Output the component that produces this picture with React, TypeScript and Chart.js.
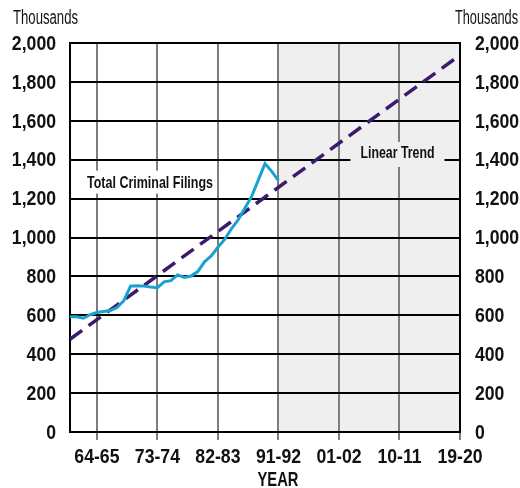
import React, { useEffect, useRef } from 'react';
import { Chart, registerables } from 'chart.js';

Chart.register(...registerables);

// Fiscal years with observed filings (index 0 = 60-61)
const fiscalYears = [
  '60-61', '61-62', '62-63', '63-64', '64-65', '65-66', '66-67', '67-68',
  '68-69', '69-70', '70-71', '71-72', '72-73', '73-74', '74-75', '75-76',
  '76-77', '77-78', '78-79', '79-80', '80-81', '81-82', '82-83', '83-84',
  '84-85', '85-86', '86-87', '87-88', '88-89', '89-90', '90-91', '91-92',
];
// Total criminal filings, thousands
const filings = [
  593, 592, 585, 603, 614, 620, 625, 640,
  675, 750, 752, 750, 745, 742, 772, 778,
  808, 795, 802, 825, 875, 905, 950, 990,
  1045, 1090, 1150, 1210, 1295, 1380, 1340, 1292,
];

// Linear trend end points (x index, thousands)
const trendX = [0, 58];
const trendY = [477, 1938];

// X axis ticks (index positions and labels)
const xTickPositions = [4, 13, 22, 31, 40, 49, 58];
const xTickLabels = ['64-65', '73-74', '82-83', '91-92', '01-02', '10-11', '19-20'];

// Y axis tick values and labels
const yTickValues = [0, 200, 400, 600, 800, 1000, 1200, 1400, 1600, 1800, 2000];
const yTickLabels = ['0', '200', '400', '600', '800', '1,000', '1,200', '1,400', '1,600', '1,800', '2,000'];

// Projection (shaded) range
const projectionRange = [31, 58];

const yMin = 0;
const yMax = 2000;
const yStep = 200;

const FONT = "'Liberation Sans', Arial, sans-serif";
const SQUEEZE = 0.84;

function squeezedText(ctx: any, text: string, x: number, y: number, k = SQUEEZE) {
  const w = ctx.measureText(text).width;
  ctx.fillText(text, x, y, w * k);
}

const overlay = {
  id: 'overlay',
  beforeDraw(chart: any) {
    const { ctx, chartArea, scales } = chart;
    const x0 = scales.x.getPixelForValue(projectionRange[0]);
    const x1 = scales.x.getPixelForValue(projectionRange[1]);
    ctx.save();
    ctx.fillStyle = '#efefef';
    ctx.fillRect(x0, chartArea.top, x1 - x0, chartArea.bottom - chartArea.top);
    ctx.restore();
  },
  beforeDatasetsDraw(chart: any) {
    const { ctx, scales } = chart;
    ctx.save();
    // Total Criminal Filings label
    let cx = scales.x.getPixelForValue(11.9);
    let cy = scales.y.getPixelForValue(1285);
    ctx.fillStyle = '#ffffff';
    ctx.fillRect(cx - 67, cy - 11.5, 134, 23);
    ctx.fillStyle = '#111111';
    ctx.font = `bold 17px ${FONT}`;
    ctx.textAlign = 'center';
    ctx.textBaseline = 'middle';
    ctx.fillText('Total Criminal Filings', cx, cy + 1, 126);
    // Linear Trend label
    cx = scales.x.getPixelForValue(48.7);
    cy = scales.y.getPixelForValue(1440);
    ctx.fillStyle = '#efefef';
    ctx.fillRect(cx - 47, cy - 10, 94, 25);
    ctx.fillStyle = '#111111';
    ctx.fillText('Linear Trend', cx, cy + 1, 74);
    ctx.restore();
  },
  afterDraw(chart: any) {
    const { ctx, scales, chartArea } = chart;
    ctx.save();
    ctx.fillStyle = '#111111';
    ctx.textBaseline = 'middle';

    // Axis titles
    ctx.font = `20px ${FONT}`;
    ctx.textAlign = 'left';
    ctx.fillText('Thousands', 13, 18, 65);
    ctx.textAlign = 'right';
    ctx.fillText('Thousands', 518, 18, 63);

    // Tick labels
    ctx.font = `bold 21px ${FONT}`;
    yTickValues.forEach((v, i) => {
      const py = scales.y.getPixelForValue(v) + 1;
      ctx.textAlign = 'right';
      squeezedText(ctx, yTickLabels[i], chartArea.left - 14, py);
      ctx.textAlign = 'left';
      squeezedText(ctx, yTickLabels[i], chartArea.right + 15, py);
    });
    ctx.textAlign = 'center';
    xTickPositions.forEach((v, i) => {
      const px = scales.x.getPixelForValue(v);
      squeezedText(ctx, xTickLabels[i], px, chartArea.bottom + 25);
    });

    ctx.font = `bold 21px ${FONT}`;
    ctx.textAlign = 'center';
    ctx.fillText('YEAR', 278, 480, 41);
    ctx.restore();
  },
};

export default function App() {
  const canvasRef = useRef<HTMLCanvasElement | null>(null);

  useEffect(() => {
    document.body.style.margin = '0';
    const canvas = canvasRef.current;
    if (!canvas) return;

    const chart = new Chart(canvas, {
      type: 'line',
      data: {
        datasets: [
          {
            label: 'Linear Trend',
            data: trendX.map((x, i) => ({ x, y: trendY[i] })),
            borderColor: '#3c1a6e',
            borderWidth: 3.5,
            borderDash: [15, 8],
            pointRadius: 0,
            fill: false,
            order: 2,
          },
          {
            label: 'Total Criminal Filings',
            data: fiscalYears.map((_, i) => ({ x: i, y: filings[i] })),
            borderColor: '#19a2d0',
            borderWidth: 3,
            pointRadius: 0,
            tension: 0,
            fill: false,
            order: 1,
          },
        ],
      },
      options: {
        responsive: false,
        animation: false,
        events: [],
        layout: { padding: { top: 43, left: 0, right: 0, bottom: 0 } },
        plugins: {
          legend: { display: false },
          title: { display: false },
          tooltip: { enabled: false },
        },
        scales: {
          x: {
            type: 'linear',
            min: 0,
            max: 58,
            afterBuildTicks: (scale: any) => {
              scale.ticks = xTickPositions.map((v) => ({ value: v }));
            },
            afterFit: (scale: any) => {
              scale.height = 56;
            },
            ticks: { display: false, autoSkip: false, maxRotation: 0 },
            grid: {
              color: '#7d7d7d',
              lineWidth: 2,
              tickLength: 8,
              drawOnChartArea: true,
            },
            border: { color: '#000000', width: 2 },
          },
          y: {
            type: 'linear',
            position: 'left',
            min: yMin,
            max: yMax,
            afterFit: (scale: any) => {
              scale.width = 70;
            },
            ticks: { display: false, stepSize: yStep },
            grid: {
              color: '#000000',
              lineWidth: 2,
              drawTicks: false,
            },
            border: { color: '#000000', width: 2 },
          },
          y2: {
            type: 'linear',
            position: 'right',
            min: yMin,
            max: yMax,
            afterFit: (scale: any) => {
              scale.width = 60;
            },
            ticks: { display: false, stepSize: yStep },
            grid: { display: false, drawTicks: false },
            border: { color: '#000000', width: 2 },
          },
        },
      },
      plugins: [overlay],
    });

    return () => chart.destroy();
  }, []);

  return (
    <div style={{ width: 520, height: 488 }}>
      <canvas ref={canvasRef} width={520} height={488} />
    </div>
  );
}
